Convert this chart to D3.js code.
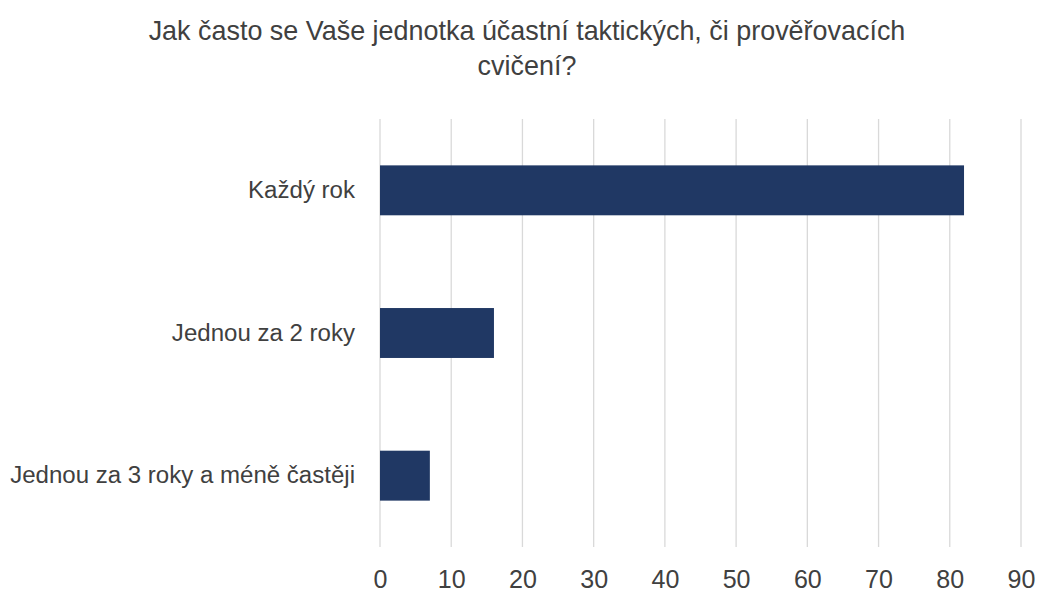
<!DOCTYPE html>
<html>
<head>
<meta charset="utf-8">
<script src="https://cdn.jsdelivr.net/npm/d3@7"></script>
<style>
  body { margin: 0; background: #fff; }
  text { font-family: "Liberation Sans", Arial, sans-serif; fill: #404040; }
</style>
</head>
<body>
<div id="chart"></div>
<script>
var svgWidth = 1039;
var svgHeight = 592;

var titleLines = ["Jak často se Vaše jednotka účastní taktických, či prověřovacích", "cvičení?"];
var categories = ["Každý rok", "Jednou za 2 roky", "Jednou za 3 roky a méně častěji"];
var values = [82, 16, 7];
var xTicks = [0, 10, 20, 30, 40, 50, 60, 70, 80, 90];

var margin = { top: 119, right: 18, bottom: 45, left: 380 };
var width = svgWidth - margin.left - margin.right;
var height = svgHeight - margin.top - margin.bottom;

var svg = d3.select("#chart")
  .append("svg")
  .attr("width", svgWidth)
  .attr("height", svgHeight);

// scale a font size so that a text node spans roughly the wanted width
function fitSize(node, base, target) {
  var len = node.getComputedTextLength();
  return base * target / len;
}

// title
var title = svg.append("g").selectAll("text")
  .data(titleLines)
  .enter()
  .append("text")
  .attr("x", 527)
  .attr("y", (d, i) => 40 + i * 35)
  .attr("text-anchor", "middle")
  .attr("font-size", "24px")
  .text(d => d);
var titleSize = fitSize(title.node(), 24, 757);
title.attr("font-size", titleSize + "px");

var chartGroup = svg.append("g")
  .attr("transform", `translate(${margin.left}, ${margin.top})`);

var xScale = d3.scaleLinear().domain([0, 90]).range([0, 641]);
var yScale = d3.scaleBand()
  .domain(categories)
  .range([0, height])
  .paddingInner(0.65)
  .paddingOuter(0.325);

// gridlines
chartGroup.append("g").selectAll("line")
  .data(xTicks)
  .enter()
  .append("line")
  .attr("x1", d => xScale(d))
  .attr("x2", d => xScale(d))
  .attr("y1", 0)
  .attr("y2", height)
  .attr("stroke", "#d9d9d9")
  .attr("stroke-width", 1.3);

// bars
chartGroup.selectAll("rect")
  .data(values)
  .enter()
  .append("rect")
  .attr("x", xScale(0))
  .attr("y", (d, i) => yScale(categories[i]))
  .attr("width", d => xScale(d) - xScale(0))
  .attr("height", yScale.bandwidth())
  .attr("fill", "#203864");

// y axis
var leftAxis = d3.axisLeft(yScale).tickSize(0).tickPadding(25);
var yAxis = chartGroup.append("g").call(leftAxis);
yAxis.select(".domain").remove();
var yLabels = yAxis.selectAll("text")
  .attr("font-size", "20px")
  .attr("fill", "#404040")
  .style("font-family", null);
var labelSize = fitSize(yLabels.nodes()[2], 20, 345);
yLabels.attr("font-size", labelSize + "px");

// x axis
var bottomAxis = d3.axisBottom(xScale).tickValues(xTicks).tickSize(0).tickPadding(23);
var xAxis = chartGroup.append("g")
  .attr("transform", `translate(0, ${height})`)
  .call(bottomAxis);
xAxis.select(".domain").remove();
xAxis.selectAll("text")
  .attr("font-size", (labelSize + 1) + "px")
  .attr("fill", "#404040")
  .style("font-family", null);
</script>
</body>
</html>
